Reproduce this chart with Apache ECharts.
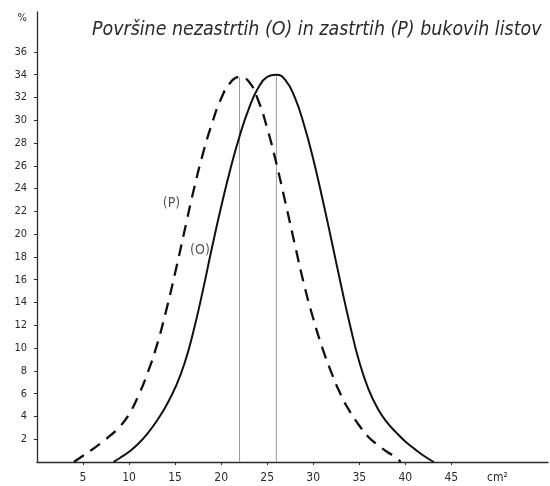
<!DOCTYPE html>
<html>
<head>
<meta charset="utf-8">
<script src="https://cdn.jsdelivr.net/npm/echarts@6/dist/echarts.min.js"></script>
<style>
  html, body { margin: 0; padding: 0; background: #fff; }
  #chart { width: 550px; height: 486px; }
</style>
</head>
<body>
<div id="chart"></div>
<script>
// Leaf area (cm²) on the x axis, share of leaves (%) on the y axis
const areaP = [4, 5, 6, 7, 8, 9, 10, 11, 12, 13, 14, 15, 16, 17, 18, 19, 20, 21, 22, 23, 24, 25, 26, 27, 28, 29, 30, 31, 32, 33, 34, 35, 36, 37, 38, 39, 39.5];
const shareP = [0, 0.55, 1.1, 1.7, 2.35, 3.1, 4.2, 5.8, 7.8, 10.2, 13.2, 16.6, 20.2, 23.8, 27.0, 29.7, 31.9, 33.3, 33.8, 33.4, 31.8, 29.3, 26.2, 22.7, 19.1, 15.6, 12.6, 10.0, 7.8, 5.9, 4.4, 3.2, 2.2, 1.5, 0.9, 0.4, 0];

const areaO = [8.3, 9, 10, 11, 12, 13, 14, 15, 16, 17, 18, 19, 20, 21, 22, 23, 24, 25, 26, 27, 28, 29, 30, 31, 32, 33, 34, 35, 36, 37, 38, 39, 40, 41, 42, 43.1];
const shareO = [0, 0.35, 0.9, 1.6, 2.5, 3.6, 4.9, 6.5, 8.6, 11.5, 15.0, 18.8, 22.4, 25.7, 28.6, 31.0, 32.8, 33.8, 34.0, 33.5, 32.0, 29.6, 26.6, 23.1, 19.4, 15.6, 12.0, 8.8, 6.4, 4.7, 3.5, 2.6, 1.8, 1.15, 0.55, 0];

// Modal values marked with thin vertical lines
const modeP = 22;
const modeO = 26;

const xTicks = [5, 10, 15, 20, 25, 30, 35, 40, 45];
const yTicks = [2, 4, 6, 8, 10, 12, 14, 16, 18, 20, 22, 24, 26, 28, 30, 32, 34, 36];
const xUnitAt = 50;   // where the "cm²" unit sits on the x axis
const yUnitAt = 39;   // where the "%" unit sits on the y axis

const titleText = 'Površine nezastrtih (O) in zastrtih (P) bukovih listov';
const hand = "'Liberation Sans Narrow', 'DejaVu Sans Condensed', sans-serif";
const ink = '#2a2a2a';

const zip = (xs, ys) => xs.map((x, i) => [x, ys[i]]);
const valueAt = (xs, ys, m) => ys[xs.indexOf(m)];

const chart = echarts.init(document.getElementById('chart'), null, { renderer: 'canvas' });

chart.setOption({
  backgroundColor: '#fff',
  animation: false,
  title: {
    text: titleText,
    left: 87,
    top: 15,
    textStyle: { fontFamily: hand, fontStyle: 'italic', fontWeight: 'normal', fontSize: 19.4, color: ink }
  },
  grid: { left: 37, right: 2, top: 12, bottom: 24, containLabel: false },
  xAxis: {
    type: 'value',
    min: 0,
    max: 55.5,
    splitLine: { show: false },
    axisLine: { lineStyle: { color: ink, width: 1.3 } },
    axisTick: { customValues: xTicks, length: 3, lineStyle: { color: ink } },
    axisLabel: {
      customValues: xTicks.concat([xUnitAt]),
      formatter: v => (v === xUnitAt ? 'cm²' : String(v)),
      fontFamily: hand, fontSize: 12, color: ink, margin: 10
    }
  },
  yAxis: {
    type: 'value',
    min: 0,
    max: 39.5,
    splitLine: { show: false },
    axisLine: { lineStyle: { color: ink, width: 1.3 } },
    axisTick: { customValues: yTicks, length: 3, lineStyle: { color: ink } },
    axisLabel: {
      customValues: yTicks.concat([yUnitAt]),
      formatter: v => (v === yUnitAt ? '%' : String(v)),
      fontFamily: hand, fontSize: 11, color: ink, margin: 10
    }
  },
  series: [
    {
      name: 'P',
      type: 'line',
      data: zip(areaP, shareP),
      smooth: 0.5,
      showSymbol: false,
      lineStyle: { color: '#111', width: 2.3, type: [12, 8] },
      z: 3
    },
    {
      name: 'O',
      type: 'line',
      data: zip(areaO, shareO),
      smooth: 0.5,
      showSymbol: false,
      lineStyle: { color: '#111', width: 2 },
      z: 3
    },
    {
      name: 'modeP',
      type: 'line',
      data: [[modeP, 0], [modeP, valueAt(areaP, shareP, modeP)]],
      showSymbol: false,
      lineStyle: { color: '#999', width: 1 },
      z: 2
    },
    {
      name: 'modeO',
      type: 'line',
      data: [[modeO, 0], [modeO, valueAt(areaO, shareO, modeO)]],
      showSymbol: false,
      lineStyle: { color: '#999', width: 1 },
      z: 2
    },
    {
      name: 'labels',
      type: 'scatter',
      symbolSize: 0,
      data: [
        { value: [14.6, 22.7], label: { formatter: '(P)' } },
        { value: [17.7, 18.6], label: { formatter: '(O)' } }
      ],
      label: {
        show: true,
        position: 'inside',
        fontFamily: hand,
        fontSize: 14,
        color: ink
      },
      silent: true,
      z: 4
    }
  ]
});
</script>
</body>
</html>
